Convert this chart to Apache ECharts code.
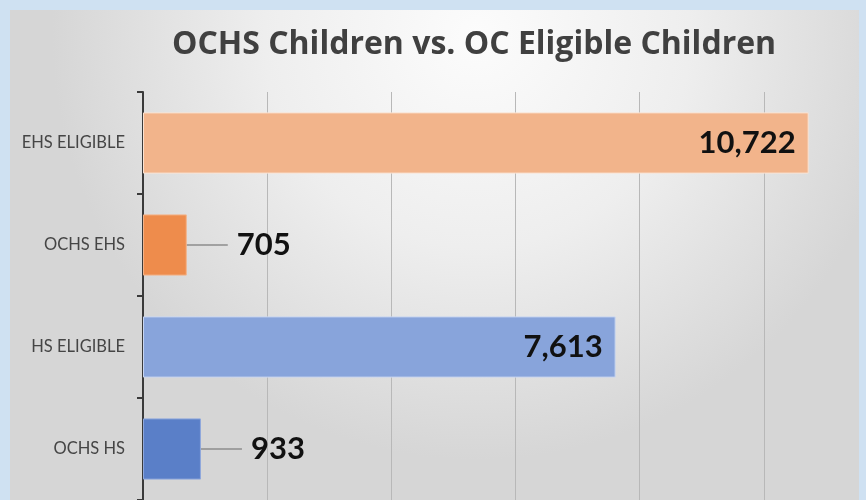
<!DOCTYPE html>
<html>
<head>
<meta charset="utf-8">
<script src="https://cdn.jsdelivr.net/npm/echarts@6/dist/echarts.min.js"></script>
<style>
  html, body { margin: 0; padding: 0; background: #cfe1f2; overflow: hidden; }
  #container { width: 900px; height: 500px; }
</style>
</head>
<body>
<div id="container"></div>
<script>
// data, top to bottom in the picture
var categories = ['EHS ELIGIBLE', 'OCHS EHS', 'HS ELIGIBLE', 'OCHS HS'];
var values = [10722, 705, 7613, 933];
var xTicks = [0, 2000, 4000, 6000, 8000, 10000, 12000];

var barColors = ['#f2b48b', '#ee8c4c', '#88a4db', '#5a7fc8'];
var barBorders = ['#fbe3d2', '#f3b48a', '#c9d6f0', '#8fa8dc'];
var insideLabel = [true, false, true, false];

var dom = document.getElementById('container');
var myChart = echarts.init(dom, null, { renderer: 'canvas' });

var seriesData = values.map(function (v, i) {
    var item = {
        value: v,
        itemStyle: { color: barColors[i], borderColor: barBorders[i], borderWidth: 1 }
    };
    if (insideLabel[i]) {
        item.label = { position: 'insideRight', distance: 13 };
    } else {
        // callout: leader line stops a little before the number
        item.label = {
            position: 'right', distance: 4,
            padding: [0, 0, 0, 9],
            backgroundColor: 'rgba(0,0,0,0)'
        };
        item.labelLine = { show: true, lineStyle: { color: '#8c8c8c', width: 1.5 } };
    }
    return item;
});

var option = {
    backgroundColor: '#cfe1f2',
    animation: false,
    graphic: [{
        type: 'rect',
        z: -10,
        silent: true,
        shape: { x: 10, y: 10, width: 849, height: 500 },
        style: {
            fill: {
                type: 'radial', x: 0.55, y: 0.05, r: 0.85,
                colorStops: [
                    { offset: 0, color: '#fcfcfc' },
                    { offset: 0.5, color: '#eeeeee' },
                    { offset: 1, color: '#d6d6d6' }
                ]
            }
        }
    }],
    title: {
        text: 'OCHS Children vs. OC Eligible Children',
        left: 469,
        textAlign: 'center',
        top: 24,
        textStyle: {
            fontFamily: 'Open Sans',
            fontWeight: 'bold',
            fontSize: 32,
            color: '#404040'
        }
    },
    grid: { left: 143, top: 92, width: 745, height: 412, containLabel: false },
    xAxis: {
        type: 'value',
        min: xTicks[0],
        max: xTicks[xTicks.length - 1],
        interval: 2000,
        axisLine: { show: false },
        axisTick: { show: false },
        axisLabel: { show: false },
        splitLine: { lineStyle: { color: '#b8b8b8', width: 1 } }
    },
    yAxis: {
        type: 'category',
        inverse: true,
        data: categories,
        axisLine: { lineStyle: { color: '#3a3a3a', width: 2 } },
        axisTick: { show: true, length: 6, lineStyle: { color: '#3a3a3a', width: 2 } },
        axisLabel: {
            margin: 18,
            fontFamily: 'Lato',
            fontSize: 16.5,
            color: '#454545'
        }
    },
    series: [{
        type: 'bar',
        data: seriesData,
        barCategoryGap: '40%',
        label: {
            show: true,
            fontFamily: 'Lato',
            fontWeight: 'bold',
            fontSize: 31,
            color: '#111',
            formatter: function (p) { return p.value.toLocaleString('en-US'); }
        },
        labelLayout: function (p) {
            return insideLabel[p.dataIndex] ? {} : { dx: 37 };
        }
    }]
};

myChart.setOption(option);
window.addEventListener('resize', myChart.resize);
</script>
</body>
</html>
